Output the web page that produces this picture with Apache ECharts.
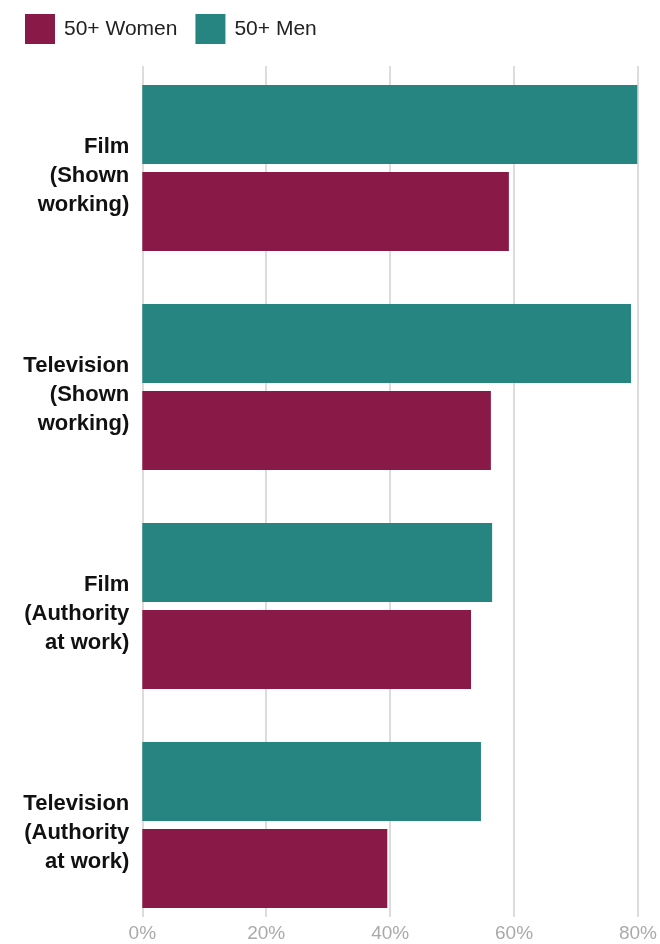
<!DOCTYPE html>
<html>
<head>
<meta charset="utf-8">
<script src="https://cdn.jsdelivr.net/npm/echarts@6/dist/echarts.min.js"></script>
<style>
  html, body { margin: 0; padding: 0; background: #fff; }
  #chart { width: 660px; height: 944px; }
</style>
</head>
<body>
<div id="chart"></div>
<script>
const categories = [
  'Film\n(Shown\nworking)',
  'Television\n(Shown\nworking)',
  'Film\n(Authority\nat work)',
  'Television\n(Authority\nat work)'
];
const women = [59.1, 56.2, 53.0, 39.5];
const men = [79.8, 78.8, 56.4, 54.6];
const xTicks = [0, 20, 40, 60, 80];

const WOMEN_COLOR = '#891946';
const MEN_COLOR = '#268481';
const FONT = '"Liberation Sans", Arial, Helvetica, sans-serif';

const xMin = xTicks[0];
const xMax = xTicks[xTicks.length - 1];
const xInterval = xTicks[1] - xTicks[0];

const chart = echarts.init(document.getElementById('chart'), null, { renderer: 'canvas' });
chart.setOption({
  animation: false,
  backgroundColor: '#ffffff',
  legend: {
    data: ['50+ Women', '50+ Men'],
    left: 20,
    top: 9,
    itemWidth: 30,
    itemHeight: 30,
    itemGap: 18,
    icon: 'rect',
    selectedMode: false,
    textStyle: { fontFamily: FONT, fontSize: 21, color: '#222', padding: [0, 0, 0, 4] }
  },
  grid: [
    { left: 142.3, right: 21.5, top: 58.5, height: 876, containLabel: false },
    { left: 142.3, right: 21.5, top: 66, bottom: 27, containLabel: false }
  ],
  xAxis: [
    {
      gridIndex: 0, type: 'value', min: xMin, max: xMax, interval: xInterval,
      axisLine: { show: false }, axisTick: { show: false }, axisLabel: { show: false },
      splitLine: { show: false }
    },
    {
      gridIndex: 1, type: 'value', min: xMin, max: xMax, interval: xInterval,
      axisLine: { show: false }, axisTick: { show: false },
      axisLabel: { formatter: '{value}%', fontFamily: FONT, fontSize: 19, color: '#aaaaaa', margin: 7 },
      splitLine: { show: true, lineStyle: { color: '#d0d0d0', width: 1.5 } }
    }
  ],
  yAxis: [
    {
      gridIndex: 0, type: 'category', data: categories, inverse: true,
      axisLine: { show: false }, axisTick: { show: false },
      axisLabel: {
        align: 'right', margin: 13,
        formatter: function (v) {
          return '{s| }\n' + v.split('\n').map(function (l) { return '{a|' + l + '}'; }).join('\n');
        },
        rich: {
          s: { fontSize: 1, lineHeight: 16, align: 'right' },
          a: { fontFamily: FONT, fontSize: 22, fontWeight: 'bold', color: '#111', lineHeight: 29, align: 'right' }
        }
      }
    },
    {
      gridIndex: 1, type: 'category', data: categories, show: false
    }
  ],
  series: [
    {
      name: '50+ Men', type: 'bar', data: men, xAxisIndex: 0, yAxisIndex: 0,
      barWidth: 79, barGap: '10.1%', itemStyle: { color: MEN_COLOR }, z: 3
    },
    {
      name: '50+ Women', type: 'bar', data: women, xAxisIndex: 0, yAxisIndex: 0,
      barWidth: 79, barGap: '10.1%', itemStyle: { color: WOMEN_COLOR }, z: 3
    }
  ]
});
</script>
</body>
</html>
